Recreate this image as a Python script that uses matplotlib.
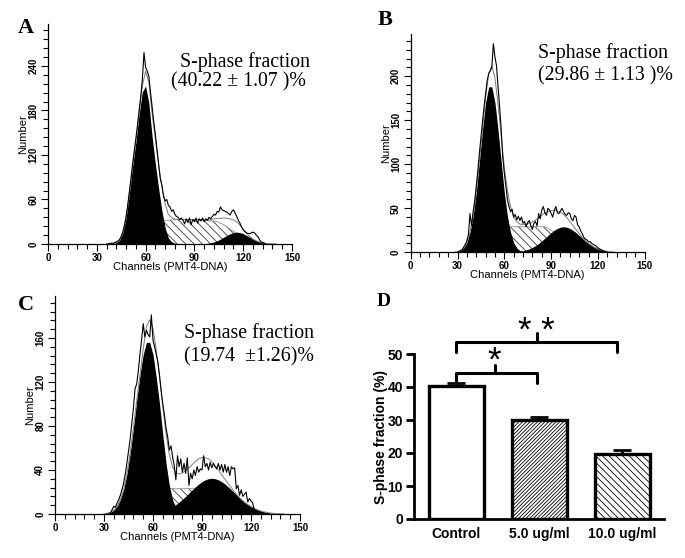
from __future__ import annotations

import matplotlib

matplotlib.use("Agg")
import matplotlib.pyplot as plt
import numpy as np
from matplotlib.ticker import MultipleLocator

SERIF = "Liberation Serif"
SANS = "Liberation Sans"
FIG_W, FIG_H = 685, 558

# ---------------------------------------------------------------------------
# Panel A (control): raw counts per channel, model components every 2 channels
A_RAW_START = 36
A_RAW = [0, 0, 1, 1,
         1, 2, 3, 4, 6, 10, 16, 25, 37, 52,
         70, 88, 108, 125, 142, 160, 180, 198, 222, 258,
         238, 233, 226, 205, 185, 165, 148, 128, 108, 88,
         80, 65, 58, 60, 52, 50, 44, 46, 40, 37,
         36, 33, 35, 32, 27, 34, 29, 35, 26, 33,
         30, 35, 28, 34, 31, 35, 30, 34, 32, 36,
         34, 37, 40, 39, 44, 43, 50, 46, 45, 44,
         43, 41, 39, 44, 46, 42, 37, 32, 28, 23,
         19, 17, 15, 14, 14, 15, 16, 15, 12, 10,
         6, 3, 2, 1, 0]
A_FIT_START = 38
A_G1 = [0, 0.5, 2, 5, 15, 35, 68, 105, 137, 175, 205, 213, 190, 145, 108, 75,
        45, 22, 8, 3, 1, 0, 0, 0,
        0, 0, 0, 0, 0, 0, 0, 0, 0, 0, 0, 0, 0, 0, 0, 0, 0, 0, 0, 0, 0, 0, 0, 0,
        0, 0, 0, 0]
A_S = [0, 0, 0, 0, 0, 0, 0, 0, 0, 0,
       8, 20, 28, 31,
       32, 32, 32, 32, 32, 32.5, 32.5, 33, 33, 33, 33, 33, 33, 33, 32.5, 32, 31.5, 31,
       31, 30, 28, 26, 23, 20, 17, 14, 10, 6, 3, 1,
       0, 0, 0, 0, 0, 0, 0, 0]
A_G2 = [0, 0, 0, 0, 0, 0, 0, 0, 0, 0, 0, 0, 0, 0, 0, 0, 0, 0, 0, 0, 0, 0, 0, 0,
        0, 0, 0, 0, 0,
        0.5, 0.9, 1.6, 2.8, 4.4, 6.6, 9.1, 11.6, 13.9, 15.4, 16, 15.4, 13.9, 11.6,
        9.1, 6.6, 4.4, 2.8, 1.6, 0.9, 0.5, 0.2, 0]
A_SPF = "(40.22 \u00b1 1.07 )%"

# Panel B (5.0 ug/ml)
B_RAW_START = 30
B_RAW = [0, 1, 2, 3, 6, 9, 13, 20, 44, 30,
         46, 58, 75, 92, 112, 130, 148, 165, 180, 195,
         203, 206, 210, 237, 222, 212, 188, 165, 140, 108,
         90, 75, 60, 52, 46, 49, 40, 43, 37, 41,
         36, 40, 33, 35, 29, 34, 36, 30, 26, 33,
         35, 30, 44, 38, 48, 52, 45, 42, 50, 48,
         44, 40, 47, 52, 45, 44, 47, 50, 46, 43,
         42, 45, 44, 38, 36, 42, 40, 31, 29, 24,
         21, 17, 15, 14, 12, 12, 10, 9, 8, 7,
         5, 4, 3, 2, 1, 1, 0]
B_FIT_START = 28
B_G1 = [0.3, 0.8, 2, 5, 11, 23, 41, 68, 103, 139, 170, 188, 188, 170, 139, 103,
        68, 41, 23, 11, 5, 2, 0.8, 0.3,
        0, 0, 0, 0, 0, 0, 0, 0, 0, 0, 0, 0, 0, 0, 0, 0, 0, 0, 0, 0, 0, 0, 0, 0,
        0, 0, 0, 0]
B_S = [0, 0, 0, 0, 0, 0, 0, 0, 0, 0,
       5, 15, 24, 28,
       29, 29, 29, 29, 29, 29, 29, 29, 29, 29, 29, 29, 29, 29, 29, 29,
       27, 25, 23, 20, 17, 14, 11, 8, 5.5, 3.5, 2, 1,
       0, 0, 0, 0, 0, 0, 0, 0, 0, 0]
B_G2 = [0, 0, 0, 0, 0, 0, 0, 0, 0, 0, 0, 0, 0, 0, 0, 0, 0, 0, 0, 0,
        0.7, 1.1, 1.8, 2.7, 3.9, 5.5, 7.6, 10.1, 12.9, 16, 19.2, 22.3, 25, 27.1,
        28.5, 29, 28.5, 27.1, 25, 22.3, 19.2, 16, 12.9, 10.1, 7.6, 5.5, 3.9, 2.7,
        1.8, 1.1, 0.7, 0.4]
B_SPF = "(29.86 \u00b1 1.13 )%"

# Panel C (10.0 ug/ml)
C_RAW_START = 32
C_RAW = [0, 0, 1, 4, 7, 6, 10, 13,
         17, 22, 28, 36, 46, 57, 68, 82, 96, 114,
         118, 130, 145, 158, 173, 161, 167, 163, 161, 181,
         158, 152, 145, 138, 126, 112, 100, 90, 78, 70,
         58, 62, 52, 44, 31, 53, 43, 50, 38, 46,
         37, 51, 26, 37, 32, 40, 35, 43, 38, 41,
         40, 53, 43, 46, 40, 47, 42, 46, 43, 41,
         46, 40, 45, 38, 45, 38, 43, 35, 43, 41,
         42, 23, 26, 17, 22, 16, 18, 20, 11, 14,
         12, 10, 4, 1, 0]
C_FIT_START = 30
C_G1 = [0.3, 0.7, 1.6, 3.5, 7, 13, 22, 36, 55, 78, 103, 126, 145, 156, 156, 145,
        124, 100, 72, 46, 26, 13, 6, 2.5, 1, 0.3,
        0, 0, 0, 0, 0, 0, 0, 0, 0, 0, 0, 0, 0, 0, 0, 0, 0, 0, 0, 0, 0, 0, 0, 0,
        0, 0, 0, 0, 0, 0]
C_S = [0, 0, 0, 0, 0, 0, 0, 0, 0, 0, 0, 0,
       5, 14, 20,
       23, 23, 23, 23, 23, 23, 23, 23, 23, 23, 23, 23, 23, 23, 23,
       22, 20, 18, 15, 12, 9, 6.5, 4.5, 3, 1.8, 1, 0.4,
       0, 0, 0, 0, 0, 0, 0, 0, 0, 0, 0, 0, 0, 0]
C_G2 = [0, 0, 0, 0, 0, 0, 0, 0, 0, 0, 0, 0, 0,
        0.4, 0.6, 0.9, 1.4, 2, 2.8, 3.8, 5.1, 6.7, 8.6, 10.8, 13.4, 16.1, 19,
        21.9, 24.7, 27.3, 29.4, 31.1, 32.1, 32.5, 32.1, 31.1, 29.4, 27.3, 24.7,
        21.9, 19, 16.1, 13.4, 10.8, 8.6, 6.7, 5.1, 3.8, 2.8, 2, 1.4, 0.9, 0.6,
        0.4, 0.2, 0]
C_SPF = "(19.74  \u00b11.26)%"

# Panel D: S-phase fraction, mean and SEM
GROUPS = ["Control", "5.0 ug/ml", "10.0 ug/ml"]
SPF_MEAN = [40.22, 29.86, 19.74]
SPF_SEM = [1.07, 1.13, 1.26]


def fig_xy(x_px: float, y_px: float) -> tuple[float, float]:
    return x_px / FIG_W, 1 - y_px / FIG_H


def add_axes_px(fig, left, bottom, right, top):
    x0, y0 = fig_xy(left, bottom)
    x1, y1 = fig_xy(right, top)
    return fig.add_axes([x0, y0, x1 - x0, y1 - y0])


def draw_histogram(ax, raw_start, raw, fit_start, g1, s, g2,
                   ymax, ymajor, yminor, w_px, h_px):
    raw_ch = raw_start + np.arange(len(raw))
    fit_ch = fit_start + 2 * np.arange(len(g1))
    g1 = np.asarray(g1, dtype=float)
    s = np.asarray(s, dtype=float)
    g2 = np.asarray(g2, dtype=float)
    total = g1 + s + g2

    ax.fill_between(fit_ch, 0, s, facecolor="white", edgecolor="#3a3a3a",
                    hatch="\\" * 4, linewidth=0, zorder=1)
    ax.plot(fit_ch, s, color="#8a8a8a", lw=0.6, zorder=1.5)
    ax.fill_between(fit_ch, 0, g1, color="black", linewidth=0, zorder=2)
    ax.fill_between(fit_ch, 0, g2, color="black", linewidth=0, zorder=2)
    ax.plot(fit_ch, total, color="#7a7a7a", lw=0.7, zorder=3)
    ax.plot(raw_ch, raw, color="black", lw=0.8, zorder=4)

    ax.set_xlim(0, 150)
    ax.set_ylim(0, ymax)
    for side in ("top", "right"):
        ax.spines[side].set_visible(False)
    for side in ("left", "bottom"):
        ax.spines[side].set_linewidth(0.9)
    ax.xaxis.set_major_locator(MultipleLocator(30))
    ax.xaxis.set_minor_locator(MultipleLocator(6))
    ax.yaxis.set_major_locator(MultipleLocator(ymajor))
    ax.yaxis.set_minor_locator(MultipleLocator(yminor))
    ax.tick_params(which="major", direction="out", length=5, width=0.8,
                   labelsize=7, pad=1.5)
    ax.tick_params(which="minor", direction="out", length=3.5, width=0.8)
    ax.tick_params(axis="y", labelrotation=90, pad=2)
    for lbl in ax.get_xticklabels() + ax.get_yticklabels():
        lbl.set_fontfamily(SANS)
        lbl.set_fontweight("bold")
    for lbl in ax.get_yticklabels():
        lbl.set_verticalalignment("center")

    ax.set_xlabel("Channels (PMT4-DNA)", fontsize=8, fontfamily=SANS)
    ax.set_ylabel("Number", fontsize=8, fontfamily=SANS)
    ax.xaxis.set_label_coords(0.5, -18 / h_px)
    ax.yaxis.set_label_coords(-20 / w_px, 0.5)


def draw_bracket(ax, x0, x1, xm, y_end, y_top, y_tick):
    ax.plot([x0, x0, x1, x1], [y_end, y_top, y_top, y_end], color="black",
            lw=2.2, clip_on=False, solid_joinstyle="round",
            solid_capstyle="round")
    ax.plot([xm, xm], [y_top, y_tick], color="black", lw=2.2, clip_on=False,
            solid_capstyle="round")


def draw_bars(ax):
    x = np.arange(len(GROUPS))
    bars = ax.bar(x, SPF_MEAN, width=0.66, color="white", edgecolor="black",
                  linewidth=2.4, zorder=2)
    for bar, hatch in zip(bars, [None, "/" * 9, "\\" * 5]):
        if hatch:
            bar.set_hatch(hatch)
    ax.errorbar(x, SPF_MEAN, yerr=[np.zeros(len(x)), SPF_SEM], fmt="none",
                ecolor="black", elinewidth=2, capsize=6.5, capthick=2,
                zorder=3)

    ax.set_xlim(-0.512, 2.5)
    ax.set_ylim(0, 50)
    for side in ("top", "right"):
        ax.spines[side].set_visible(False)
    for side in ("left", "bottom"):
        ax.spines[side].set_linewidth(2)
    ax.set_yticks(np.arange(0, 51, 10))
    ax.set_xticks(x)
    ax.set_xticklabels(GROUPS)
    ax.tick_params(axis="y", direction="out", length=6, width=2, labelsize=10,
                   pad=2)
    ax.tick_params(axis="x", length=0, labelsize=10, pad=6)
    for lbl in ax.get_xticklabels() + ax.get_yticklabels():
        lbl.set_fontfamily(SANS)
        lbl.set_fontweight("bold")
    ax.set_ylabel("S-phase fraction (%)", fontsize=10, fontweight="bold",
                  fontfamily=SANS)
    ax.yaxis.set_label_coords(-26 / 250, 0.5)

    draw_bracket(ax, 0.0, 0.97, 0.46, 41.3, 44.2, 46.7)
    draw_bracket(ax, 0.0, 1.93, 0.966, 50.7, 53.7, 56.3)
    ax.text(0.46, 44.9, "*", fontsize=25, fontfamily=SANS, ha="center",
            va="baseline", clip_on=False)
    ax.text(0.956, 54.0, "* *", fontsize=25, fontfamily=SANS, ha="center",
            va="baseline", clip_on=False)


def main() -> None:
    plt.rcParams["hatch.linewidth"] = 0.6
    fig = plt.figure(figsize=(FIG_W / 100, FIG_H / 100), dpi=100)

    ax_a = add_axes_px(fig, 48, 244, 292, 24.4)
    draw_histogram(ax_a, A_RAW_START, A_RAW, A_FIT_START, A_G1, A_S, A_G2,
                   296, 60, 12, 244, 219.6)
    ax_b = add_axes_px(fig, 410.7, 252.3, 644.7, 34)
    draw_histogram(ax_b, B_RAW_START, B_RAW, B_FIT_START, B_G1, B_S, B_G2,
                   248, 50, 10, 234, 218.3)
    ax_c = add_axes_px(fig, 55, 514, 300, 296.2)
    draw_histogram(ax_c, C_RAW_START, C_RAW, C_FIT_START, C_G1, C_S, C_G2,
                   198, 40, 8, 245, 217.8)
    ax_d = add_axes_px(fig, 414, 519, 664, 354)
    draw_bars(ax_d)

    # S-phase annotations inside the histograms
    for (x1, y1, x2, y2, txt) in [(180, 62, 171, 82, A_SPF),
                                  (538, 53, 538, 76, B_SPF),
                                  (184, 333, 184, 357, C_SPF)]:
        fig.text(*fig_xy(x1, y1), "S-phase fraction", fontsize=14.3,
                 fontfamily=SERIF, ha="left", va="center")
        fig.text(*fig_xy(x2, y2), txt, fontsize=14.3, fontfamily=SERIF,
                 ha="left", va="center")

    # panel letters
    for (x, y, letter, size) in [(26, 28, "A", 16), (385, 20, "B", 16),
                                 (26, 305, "C", 16), (384, 301, "D", 14)]:
        fig.text(*fig_xy(x, y), letter, fontsize=size, fontweight="bold",
                 fontfamily=SERIF, ha="center", va="center")

    fig.savefig("out.png", dpi=100)
    plt.close(fig)


if __name__ == "__main__":
    main()
